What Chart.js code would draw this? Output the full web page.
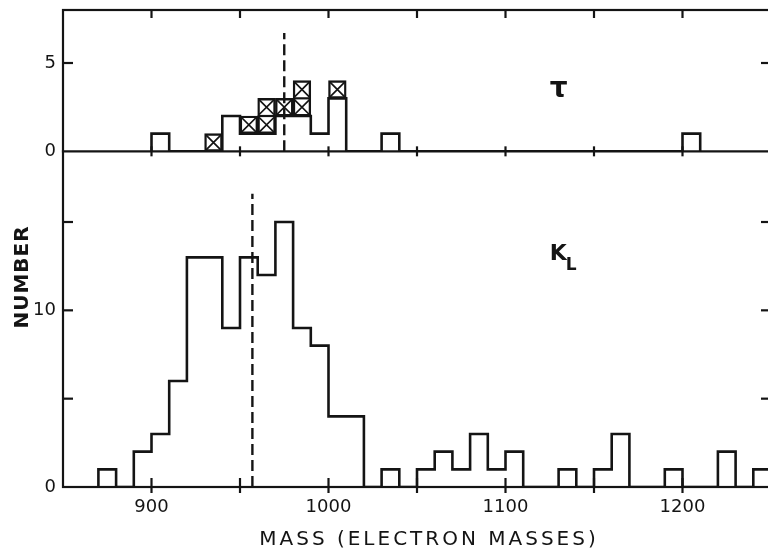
<!DOCTYPE html>
<html>
<head>
<meta charset="utf-8">
<style>
  html, body { margin: 0; padding: 0; background: #fff; overflow: hidden; }
  #wrap { position: relative; width: 800px; height: 548px; }
</style>
<script src="https://cdn.jsdelivr.net/npm/chart.js@4/dist/chart.umd.min.js"></script>
</head>
<body>
<div id="wrap"><canvas id="chart" width="800" height="548"></canvas></div>
<script>
// Mass axis, in electron masses
const massMin = 850;
const massMax = 1250;
const binWidth = 10;
const massTickLabels = [900, 1000, 1100, 1200];
const massTickMarks = [900, 950, 1000, 1050, 1100, 1150, 1200];

// τ panel: plain counts per 10-unit bin starting at 900
const tauMax = 8;
const tauTickLabels = [0, 5];
const tauTickMarks = [5];
const tauBinStart = 900;
const tauPlainCounts = [1, 0, 0, 0, 2, 1, 1, 2, 2, 1, 3, 0, 0, 1,
  0, 0, 0, 0, 0, 0, 0, 0, 0, 0, 0, 0, 0, 0, 0, 0, 1];
// τ events drawn as crossed boxes: bin start, lower and upper count
const tauCrossedStart = [930, 950, 960, 970, 980, 1000];
const tauCrossedLow = [0, 1, 1, 2, 2, 3];
const tauCrossedHigh = [1, 2, 3, 3, 4, 4];
const tauMeanMass = 975;
const tauMeanTop = 6.7;

// K_L panel: counts per 10-unit bin starting at 870
const klMax = 19;
const klTickLabels = [0, 10];
const klTickMarks = [5, 10, 15];
const klBinStart = 870;
const klCounts = [1, 0, 2, 3, 6, 13, 13, 9, 13, 12, 15, 9, 8, 4, 4, 0, 1, 0,
  1, 2, 1, 3, 1, 2, 0, 0, 1, 0, 1, 3, 0, 0, 1, 0, 0, 2, 0, 1];
const klMeanMass = 957;
const klMeanTop = 16.6;

const ink = '#141414';

// Outline of a histogram: each point carries a bin's count at the bin's right
// edge; the 'after' step rises at the left edge, then runs across the bin top
function stepPoints(start, counts) {
  const pts = [{ x: start, y: 0 }];
  counts.forEach((c, i) => pts.push({ x: start + (i + 1) * binWidth, y: c }));
  pts.push({ x: start + counts.length * binWidth, y: 0 });
  return pts;
}

const outline = {
  type: 'line', stepped: 'after', fill: false, pointRadius: 0,
  borderColor: ink, borderWidth: 2.6, borderJoinStyle: 'miter', borderCapStyle: 'square'
};
const dashed = {
  type: 'line', fill: false, pointRadius: 0, borderColor: ink,
  borderWidth: 2.4, borderDash: [11, 5]
};

// Crossed boxes: one X in every unit cell of each floating bar
const crossPlugin = {
  id: 'crossed',
  afterDatasetsDraw(chart) {
    const idx = chart.data.datasets.findIndex(d => d.label === 'τ crossed');
    const meta = chart.getDatasetMeta(idx);
    const ctx = chart.ctx;
    ctx.save();
    ctx.strokeStyle = ink;
    meta.data.forEach((bar, i) => {
      const p = bar.getProps(['x', 'y', 'base', 'width'], true);
      const n = tauCrossedHigh[i] - tauCrossedLow[i];
      const l = p.x - p.width / 2, r = p.x + p.width / 2;
      const top = Math.min(p.y, p.base), bot = Math.max(p.y, p.base);
      const h = (bot - top) / n;
      for (let k = 0; k < n; k++) {
        const t = top + k * h, b = t + h;
        ctx.lineWidth = 1.7;
        ctx.beginPath();
        ctx.moveTo(l + 1.5, t + 1.5); ctx.lineTo(r - 1.5, b - 1.5);
        ctx.moveTo(r - 1.5, t + 1.5); ctx.lineTo(l + 1.5, b - 1.5);
        ctx.stroke();
        if (k > 0) {
          ctx.lineWidth = 2.2;
          ctx.beginPath(); ctx.moveTo(l, t); ctx.lineTo(r, t); ctx.stroke();
        }
      }
    });
    ctx.restore();
  }
};

// Frame, panel divider and inward tick marks
const framePlugin = {
  id: 'frame',
  afterDatasetsDraw(chart) {
    const { ctx, chartArea: a, scales } = chart;
    const x = scales.x, yT = scales.yTau, yK = scales.yKL;
    const seg = (x1, y1, x2, y2) => { ctx.beginPath(); ctx.moveTo(x1, y1); ctx.lineTo(x2, y2); ctx.stroke(); };
    ctx.save();
    ctx.strokeStyle = ink;
    ctx.lineWidth = 2.2;
    ctx.lineCap = 'square';
    ctx.strokeRect(a.left, a.top, a.right - a.left, a.bottom - a.top);
    const sep = yT.getPixelForValue(0);
    seg(a.left, sep, a.right, sep);
    ctx.lineCap = 'butt';
    massTickMarks.forEach(v => {
      const px = x.getPixelForValue(v);
      seg(px, a.top, px, a.top + 8);
      seg(px, sep - 5, px, sep + 5);
      seg(px, a.bottom - 9, px, a.bottom + 6);
    });
    tauTickMarks.forEach(v => {
      const py = yT.getPixelForValue(v);
      seg(a.left, py, a.left + 10, py);
      seg(a.right - 10, py, a.right, py);
    });
    klTickMarks.forEach(v => {
      const py = yK.getPixelForValue(v);
      seg(a.left, py, a.left + 10, py);
      seg(a.right - 10, py, a.right, py);
    });
    ctx.restore();
  }
};

// Panel names and axis titles
const textPlugin = {
  id: 'texts',
  afterDraw(chart) {
    const { ctx, scales } = chart;
    const x = scales.x, yT = scales.yTau, yK = scales.yKL;
    ctx.save();
    ctx.fillStyle = ink;

    ctx.font = 'bold 28px "DejaVu Sans"';
    ctx.textAlign = 'center';
    ctx.textBaseline = 'middle';
    ctx.fillText('τ', x.getPixelForValue(1130), yT.getPixelForValue(3.5));

    ctx.textAlign = 'left';
    ctx.textBaseline = 'alphabetic';
    const kx = x.getPixelForValue(1125), ky = yK.getPixelForValue(12.85);
    ctx.font = 'bold 22px "DejaVu Sans"';
    ctx.fillText('K', kx, ky);
    const kw = ctx.measureText('K').width;
    ctx.font = 'bold 17px "DejaVu Sans"';
    ctx.fillText('L', kx + kw - 1, ky + 10);

    ctx.font = 'bold 20px "DejaVu Sans"';
    ctx.letterSpacing = '1px';
    ctx.textAlign = 'center';
    ctx.textBaseline = 'middle';
    ctx.translate(23, 277);
    ctx.rotate(-Math.PI / 2);
    ctx.fillText('NUMBER', 0, 0);
    ctx.setTransform(1, 0, 0, 1, 0, 0);

    ctx.font = '20px "DejaVu Sans"';
    ctx.letterSpacing = '3px';
    ctx.textAlign = 'center';
    ctx.textBaseline = 'alphabetic';
    ctx.fillText('MASS (ELECTRON MASSES)', 429, 545);
    ctx.restore();
  }
};

const tickFont = { family: 'DejaVu Sans', size: 18 };
const noPad = s => { s.paddingTop = 0; s.paddingBottom = 0; s.paddingLeft = 0; s.paddingRight = 0; };

new Chart(document.getElementById('chart'), {
  type: 'line',
  data: {
    datasets: [
      { ...dashed, label: 'τ mean', yAxisID: 'yTau',
        data: [{ x: tauMeanMass, y: 0 }, { x: tauMeanMass, y: tauMeanTop }] },
      { ...dashed, label: 'K_L mean', yAxisID: 'yKL',
        data: [{ x: klMeanMass, y: 0 }, { x: klMeanMass, y: klMeanTop }] },
      { type: 'bar', label: 'τ crossed', yAxisID: 'yTau',
        data: tauCrossedStart.map((s, i) => ({ x: s + binWidth / 2, y: [tauCrossedLow[i], tauCrossedHigh[i]] })),
        backgroundColor: '#ffffff', borderColor: ink, borderWidth: 2.4, borderSkipped: false,
        grouped: false, barPercentage: 1, categoryPercentage: 1 },
      { ...outline, label: 'τ', yAxisID: 'yTau', data: stepPoints(tauBinStart, tauPlainCounts) },
      { ...outline, label: 'K_L', yAxisID: 'yKL', data: stepPoints(klBinStart, klCounts) }
    ]
  },
  options: {
    responsive: false,
    animation: false,
    events: [],
    layout: { padding: { top: 10, right: 29, left: 0, bottom: 0 } },
    plugins: { legend: { display: false }, tooltip: { enabled: false } },
    scales: {
      x: {
        type: 'linear', position: 'bottom', min: massMin, max: massMax, offset: false,
        grid: { display: false, drawTicks: false, offset: false }, border: { display: false },
        ticks: { font: tickFont, color: ink, padding: 10, maxRotation: 0, autoSkip: false,
          callback: v => String(v) },
        afterBuildTicks: s => { s.ticks = massTickLabels.map(v => ({ value: v })); },
        afterFit: s => { s.height = 61; noPad(s); }
      },
      yKL: {
        type: 'linear', position: 'left', stack: 'panels', stackWeight: klMax,
        min: 0, max: klMax,
        grid: { display: false, drawTicks: false }, border: { display: false },
        ticks: { font: tickFont, color: ink, padding: 7, callback: v => String(v) },
        afterBuildTicks: s => { s.ticks = klTickLabels.map(v => ({ value: v })); },
        afterFit: s => { s.width = 63; noPad(s); }
      },
      yTau: {
        type: 'linear', position: 'left', stack: 'panels', stackWeight: tauMax,
        min: 0, max: tauMax,
        grid: { display: false, drawTicks: false }, border: { display: false },
        ticks: { font: tickFont, color: ink, padding: 7, callback: v => String(v) },
        afterBuildTicks: s => { s.ticks = tauTickLabels.map(v => ({ value: v })); },
        afterFit: s => { s.width = 63; noPad(s); }
      }
    }
  },
  plugins: [crossPlugin, framePlugin, textPlugin]
});
</script>
</body>
</html>
